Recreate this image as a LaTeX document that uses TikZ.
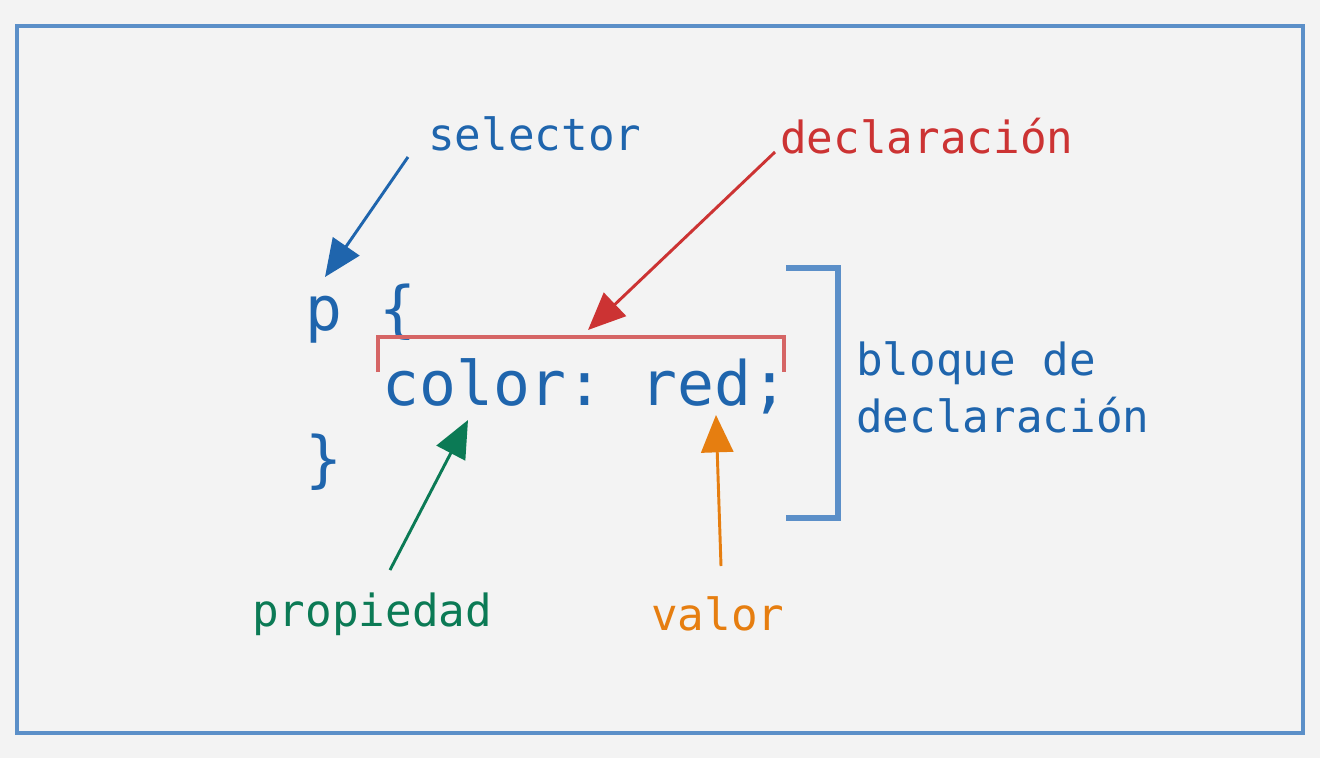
\documentclass[tikz,border=0pt]{standalone}
\usepackage{fontspec}
\setmonofont{DejaVu Sans Mono}
\usetikzlibrary{arrows.meta}
\definecolor{bg}{HTML}{F3F3F3}
\definecolor{frameblue}{HTML}{5B8FC8}
\definecolor{tblue}{HTML}{1F65AD}
\definecolor{tred}{HTML}{CC3333}
\definecolor{bred}{HTML}{D56565}
\definecolor{tgreen}{HTML}{0B7A55}
\definecolor{torange}{HTML}{E67E10}
\tikzset{
  code/.style={anchor=base west,inner sep=0pt,text=tblue,font=\ttfamily\fontsize{46}{50}\selectfont},
  lbl/.style={anchor=base west,inner sep=0pt,font=\ttfamily\fontsize{33.2}{40}\selectfont},
  arr/.style={line width=2.2pt,-{Triangle[length=28pt,width=24pt]}},
  brk/.style={line width=3.2pt}
}
\begin{document}
\begin{tikzpicture}[x=0.75pt,y=-0.75pt]
\useasboundingbox (0,0) rectangle (1320,758);
\fill[bg] (0,0) rectangle (1320,758);
\draw[frameblue,line width=2.5pt] (17,26) rectangle (1303,733);
% code
\node[code] (p) at (305,330) {p \{};
\node[code] (decl) at (382,405) {color: red;};
\node[code] (close) at (305,480) {\}};
% labels
\node[lbl,text=tblue] (sel) at (428,150) {selector};
\node[lbl,text=tred] (dec) at (780,153) {declaración};
\node[lbl,text=tblue] (blq) at (856,375) {bloque de};
\node[lbl,text=tblue] (blq2) at (856,432) {declaración};
\node[lbl,text=tgreen] (prop) at (252,626) {propiedad};
\node[lbl,text=torange] (val) at (651,630) {valor};
% arrow endpoints
\coordinate (selS) at (408,157);
\coordinate (selT) at (325,277);
\coordinate (decS) at (775,152);
\coordinate (decT) at (588,330);
\coordinate (propS) at (390,570);
\coordinate (propT) at (468,420);
\coordinate (valS) at (721,566);
\coordinate (valT) at (716,415);
\draw[arr,tblue] (selS) -- (selT);
\draw[arr,tred] (decS) -- (decT);
\draw[arr,tgreen] (propS) -- (propT);
\draw[arr,torange] (valS) -- (valT);
% brackets
\draw[brk,bred] (378,372) -- (378,337) -- (784,337) -- (784,372);
\draw[brk,frameblue,line width=4pt] (786,268) -- (838,268) -- (838,518) -- (786,518);
\end{tikzpicture}
\end{document}
